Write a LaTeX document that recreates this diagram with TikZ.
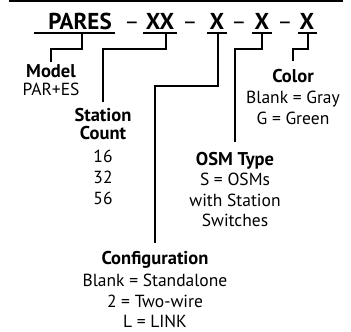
\documentclass[tikz,border=0pt]{standalone}
\usepackage{fontspec}
\setmainfont{PT Sans}
\begin{document}
\begin{tikzpicture}[x=1pt,y=-1pt,
  lab/.style={inner sep=0pt,anchor=base,font=\fontsize{17.5}{20}\selectfont},
  labb/.style={inner sep=0pt,anchor=base,font=\fontsize{18.5}{20}\selectfont\bfseries},
  ttl/.style={inner sep=0pt,anchor=base,font=\fontsize{23}{24}\selectfont\bfseries},
  dsh/.style={inner sep=0pt,anchor=base,font=\fontsize{23}{24}\selectfont},
  uline/.style={line width=2.5pt},
  conn/.style={line width=1.4pt}]
\useasboundingbox (0,0) rectangle (351,332);
\draw[line width=1.5pt] (9,1) -- (343,1);
% title
\node[ttl] (tP) at (80,30) {PARES};
\node[dsh] (d1) at (132,30) {–};
\node[ttl] (tXX) at (160,30) {XX};
\node[dsh] (d2) at (190,30) {–};
\node[ttl] (tX1) at (217,30) {X};
\node[dsh] (d3) at (239,30) {–};
\node[ttl] (tX2) at (262,30) {X};
\node[dsh] (d4) at (285,30) {–};
\node[ttl] (tX3) at (307,30) {X};
% underlines
\draw[uline] (34,33) -- (115,33);
\draw[uline] (143,33) -- (177,33);
\draw[uline] (207,33) -- (227,33);
\draw[uline] (252,33) -- (272,33);
\draw[uline] (298,33) -- (317,33);
\coordinate (pP) at (82,33);
\coordinate (pXX) at (166,33);
\coordinate (pX1) at (218,33);
\coordinate (pX2) at (262,33);
\coordinate (pX3) at (308,33);
% labels
\node[labb] (model) at (51,77) {Model};
\node[lab] (modelv) at (51,95) {PAR+ES};
\node[labb] (stat) at (103,121) {Station};
\node[labb] (count) at (103,139) {Count};
\node[lab] (s16) at (103,162) {16};
\node[lab] (s32) at (103,183) {32};
\node[lab] (s56) at (103,204) {56};
\node[labb] (osm) at (235,165) {OSM Type};
\node[lab] (osm1) at (235,185) {S = OSMs};
\node[lab] (osm2) at (235,206) {with Station};
\node[lab] (osm3) at (235,226) {Switches};
\node[labb] (color) at (293,82) {Color};
\node[lab] (col1) at (293,103) {Blank = Gray};
\node[lab] (col2) at (293,124) {G = Green};
\node[labb] (conf) at (155,264) {Configuration};
\node[lab] (conf1) at (155,286) {Blank = Standalone};
\node[lab] (conf2) at (155,307) {2 = Two-wire};
\node[lab] (conf3) at (155,327) {L = LINK};
% connectors
\draw[conn] (pP) |- (51,49) -- ([yshift=2pt]model.north);
\draw[conn] (pXX) |- (103,49) -- ([yshift=6pt]stat.north);
\draw[conn] (pX1) |- (155,86) -- ([yshift=8pt]conf.north);
\draw[conn] (pX2) |- (235,49) -- ([yshift=10pt]osm.north);
\draw[conn] (pX3) |- (293,49) -- ([yshift=8pt]color.north);
\end{tikzpicture}
\end{document}
